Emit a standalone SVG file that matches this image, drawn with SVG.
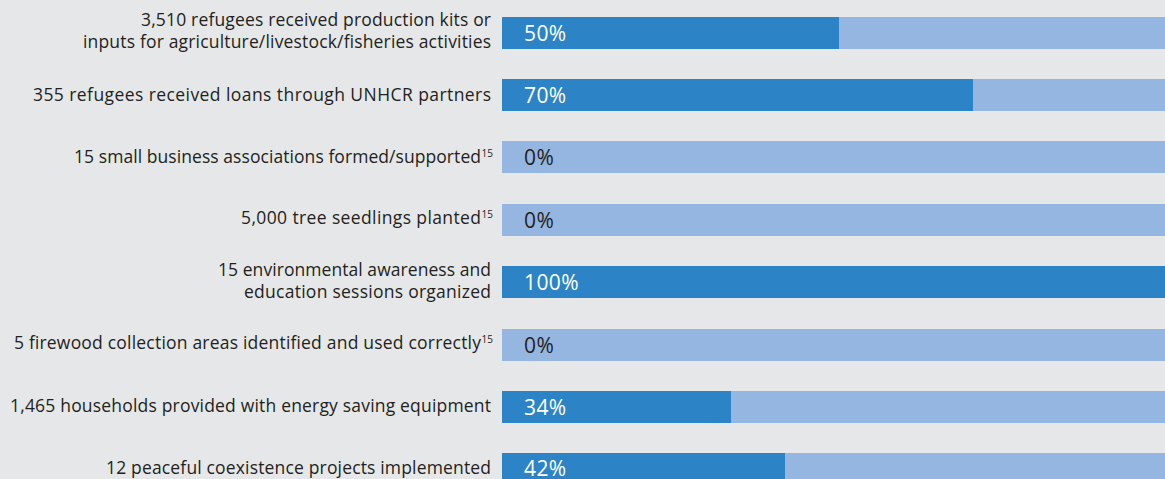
<svg xmlns="http://www.w3.org/2000/svg" width="1165" height="479" viewBox="0 0 1165 479">
<style>
.bg{fill:#E6E7E9}
.full{fill:#94B6E0}
.done{fill:#2C84C6}
.lbl{font-family:"Open Sans","Liberation Sans",Arial,sans-serif;font-size:17.5px;fill:#231F20}
.sup{font-family:"Open Sans","Liberation Sans",Arial,sans-serif;font-size:10px;fill:#231F20}
.pw{font-family:"Open Sans","Liberation Sans",Arial,sans-serif;font-size:21px;font-weight:400;fill:#FFFFFF;letter-spacing:0.4px}
.pd{font-family:"Open Sans","Liberation Sans",Arial,sans-serif;font-size:21px;font-weight:400;fill:#231F20;letter-spacing:0.4px}
</style>
<rect class="bg" x="0" y="0" width="1165" height="479"/>
<g id="row1">
<text class="lbl" x="141" y="26" textLength="350" lengthAdjust="spacing">3,510 refugees received production kits or</text>
<text class="lbl" x="83" y="48" textLength="408" lengthAdjust="spacing">inputs for agriculture/livestock/fisheries activities</text>
<rect class="full" x="502" y="17" width="663" height="32"/>
<rect class="done" x="502" y="17" width="337" height="32"/>
<text class="pw" x="524" y="41">50%</text>
</g>
<g id="row2">
<text class="lbl" x="33" y="101" textLength="458" lengthAdjust="spacing">355 refugees received loans through UNHCR partners</text>
<rect class="full" x="502" y="79" width="663" height="32"/>
<rect class="done" x="502" y="79" width="471" height="32"/>
<text class="pw" x="524" y="103">70%</text>
</g>
<g id="row3">
<text class="lbl" x="74" y="163" textLength="407" lengthAdjust="spacing">15 small business associations formed/supported</text>
<text class="sup" x="481.5" y="157">15</text>
<rect class="full" x="502" y="141" width="663" height="32"/>
<text class="pd" x="524" y="165">0%</text>
</g>
<g id="row4">
<text class="lbl" x="241" y="224" textLength="240" lengthAdjust="spacing">5,000 tree seedlings planted</text>
<text class="sup" x="481.5" y="218">15</text>
<rect class="full" x="502" y="204" width="663" height="32"/>
<text class="pd" x="524" y="228">0%</text>
</g>
<g id="row5">
<text class="lbl" x="218" y="276" textLength="273" lengthAdjust="spacing">15 environmental awareness and</text>
<text class="lbl" x="244" y="298" textLength="247" lengthAdjust="spacing">education sessions organized</text>
<rect class="done" x="502" y="266" width="663" height="32"/>
<text class="pw" x="524" y="290">100%</text>
</g>
<g id="row6">
<text class="lbl" x="14" y="349" textLength="467" lengthAdjust="spacing">5 firewood collection areas identified and used correctly</text>
<text class="sup" x="481.5" y="343">15</text>
<rect class="full" x="502" y="329" width="663" height="32"/>
<text class="pd" x="524" y="353">0%</text>
</g>
<g id="row7">
<text class="lbl" x="10" y="412" textLength="481" lengthAdjust="spacing">1,465 households provided with energy saving equipment</text>
<rect class="full" x="502" y="391" width="663" height="32"/>
<rect class="done" x="502" y="391" width="229" height="32"/>
<text class="pw" x="524" y="415">34%</text>
</g>
<g id="row8">
<text class="lbl" x="106" y="474" textLength="385" lengthAdjust="spacing">12 peaceful coexistence projects implemented</text>
<rect class="full" x="502" y="453" width="663" height="32"/>
<rect class="done" x="502" y="453" width="283" height="32"/>
<text class="pw" x="524" y="476">42%</text>
</g>
</svg>
